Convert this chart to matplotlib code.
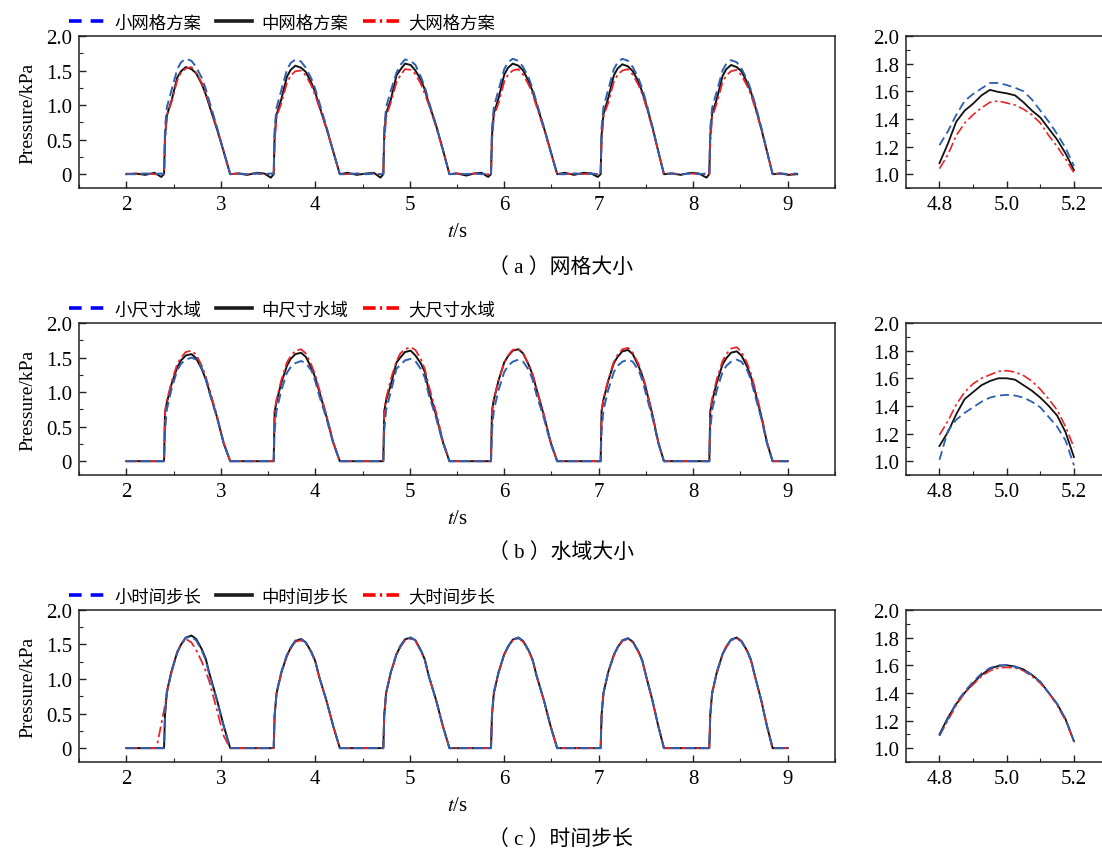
import matplotlib
matplotlib.use("Agg")
import matplotlib.pyplot as plt
from matplotlib.lines import Line2D
from matplotlib.ticker import MultipleLocator, FixedLocator, FixedFormatter

plt.rcParams['font.family'] = ['Liberation Serif', 'Noto Sans CJK SC', 'DejaVu Sans']
plt.rcParams['mathtext.fontset'] = 'stix'

# ---- data: panel (a) grid size ----
t_a = [2.00, 2.10, 2.20, 2.30, 2.37,
       2.40, 2.41, 2.43, 2.48, 2.54, 2.58, 2.63, 2.69, 2.74, 2.80, 2.84, 2.88, 2.96, 3.03, 3.10,
       3.18, 3.28, 3.38, 3.46, 3.53,
       3.56, 3.57, 3.59, 3.64, 3.70, 3.74, 3.79, 3.85, 3.90, 3.96, 4.00, 4.04, 4.12, 4.19, 4.26,
       4.34, 4.44, 4.54, 4.62, 4.69,
       4.72, 4.73, 4.75, 4.80, 4.86, 4.90, 4.95, 5.01, 5.06, 5.12, 5.16, 5.20, 5.28, 5.35, 5.42,
       5.50, 5.60, 5.68, 5.76, 5.83,
       5.86, 5.87, 5.89, 5.94, 6.00, 6.04, 6.09, 6.15, 6.20, 6.26, 6.30, 6.34, 6.42, 6.49, 6.56,
       6.64, 6.74, 6.84, 6.92, 6.99,
       7.02, 7.03, 7.05, 7.10, 7.16, 7.20, 7.25, 7.31, 7.36, 7.42, 7.46, 7.50, 7.57, 7.63, 7.69,
       7.77, 7.87, 7.97, 8.06, 8.14,
       8.17, 8.18, 8.20, 8.25, 8.31, 8.35, 8.40, 8.46, 8.51, 8.57, 8.61, 8.65, 8.72, 8.78, 8.84,
       8.92, 9.01, 9.10]
a_small = [0.00, 0.00, 0.01, 0.00, 0.01,
           0.00, 0.67, 0.97, 1.22, 1.52, 1.62, 1.67, 1.64, 1.55, 1.39, 1.24, 1.05, 0.68, 0.33, 0.00,
           0.01, 0.00, 0.01, 0.00, 0.01,
           0.00, 0.66, 0.96, 1.21, 1.51, 1.61, 1.66, 1.63, 1.54, 1.38, 1.23, 1.05, 0.68, 0.33, 0.00,
           0.00, 0.01, 0.00, 0.01, 0.00,
           0.00, 0.66, 0.97, 1.21, 1.47, 1.58, 1.66, 1.64, 1.58, 1.40, 1.26, 1.06, 0.70, 0.35, 0.00,
           0.01, 0.00, 0.01, 0.00, 0.01,
           0.00, 0.67, 0.97, 1.22, 1.52, 1.62, 1.67, 1.64, 1.55, 1.39, 1.24, 1.05, 0.68, 0.33, 0.00,
           0.00, 0.01, 0.00, 0.01, 0.00,
           0.00, 0.67, 0.97, 1.22, 1.52, 1.62, 1.67, 1.64, 1.55, 1.39, 1.24, 1.05, 0.68, 0.33, 0.00,
           0.01, 0.00, 0.01, 0.00, 0.01,
           0.00, 0.66, 0.96, 1.20, 1.50, 1.60, 1.65, 1.62, 1.53, 1.37, 1.22, 1.04, 0.68, 0.33, 0.00,
           0.01, 0.00, 0.01]
a_mid = [0.00, 0.01, -0.01, 0.02, -0.04,
         0.00, 0.54, 0.85, 1.07, 1.40, 1.49, 1.55, 1.52, 1.46, 1.30, 1.16, 0.99, 0.65, 0.33, 0.00,
         0.01, -0.01, 0.02, 0.01, -0.05,
         0.00, 0.55, 0.86, 1.08, 1.41, 1.51, 1.57, 1.54, 1.48, 1.32, 1.18, 1.00, 0.66, 0.33, 0.00,
         0.02, -0.01, 0.01, 0.02, -0.05,
         0.00, 0.56, 0.88, 1.08, 1.43, 1.51, 1.60, 1.58, 1.50, 1.36, 1.22, 1.03, 0.70, 0.36, 0.00,
         0.01, -0.02, 0.01, 0.02, -0.04,
         0.00, 0.56, 0.88, 1.10, 1.44, 1.54, 1.60, 1.57, 1.50, 1.34, 1.20, 1.02, 0.67, 0.34, 0.00,
         0.02, -0.01, 0.02, 0.01, -0.04,
         0.00, 0.56, 0.87, 1.10, 1.43, 1.53, 1.59, 1.56, 1.49, 1.34, 1.19, 1.02, 0.67, 0.33, 0.00,
         0.01, -0.01, 0.02, 0.01, -0.05,
         0.00, 0.55, 0.87, 1.09, 1.42, 1.52, 1.58, 1.55, 1.49, 1.33, 1.19, 1.01, 0.66, 0.33, 0.00,
         0.01, -0.01, 0.00]
a_large = [0.01, 0.00, 0.01, 0.00, 0.00,
           0.00, 0.47, 0.85, 1.05, 1.36, 1.47, 1.53, 1.55, 1.47, 1.32, 1.18, 1.01, 0.67, 0.34, 0.00,
           0.01, 0.00, 0.01, 0.00, 0.00,
           0.00, 0.45, 0.83, 1.02, 1.32, 1.43, 1.49, 1.50, 1.43, 1.28, 1.14, 0.98, 0.65, 0.33, 0.00,
           0.00, 0.01, 0.00, 0.01, 0.00,
           0.00, 0.45, 0.83, 1.04, 1.33, 1.43, 1.52, 1.51, 1.45, 1.30, 1.16, 1.01, 0.68, 0.35, 0.00,
           0.01, 0.00, 0.01, 0.00, 0.00,
           0.00, 0.46, 0.84, 1.03, 1.34, 1.44, 1.50, 1.52, 1.44, 1.29, 1.16, 0.99, 0.65, 0.33, 0.00,
           0.00, 0.01, 0.00, 0.01, 0.00,
           0.00, 0.46, 0.84, 1.03, 1.34, 1.44, 1.50, 1.52, 1.44, 1.29, 1.16, 0.99, 0.65, 0.33, 0.00,
           0.01, 0.00, 0.01, 0.00, 0.00,
           0.00, 0.45, 0.83, 1.03, 1.33, 1.43, 1.49, 1.51, 1.43, 1.28, 1.15, 0.98, 0.65, 0.33, 0.00,
           0.01, 0.00, 0.00]

# ---- data: panel (b) domain size ----
t_b = [2.00,
       2.40, 2.41, 2.43, 2.48, 2.54, 2.58, 2.63, 2.69, 2.74, 2.80, 2.84, 2.88, 2.96, 3.03, 3.10,
       3.56, 3.57, 3.59, 3.64, 3.70, 3.74, 3.79, 3.85, 3.90, 3.96, 4.00, 4.04, 4.12, 4.19, 4.26,
       4.72, 4.73, 4.75, 4.80, 4.86, 4.90, 4.95, 5.01, 5.06, 5.12, 5.16, 5.20, 5.28, 5.35, 5.42,
       5.86, 5.87, 5.89, 5.94, 6.00, 6.04, 6.09, 6.15, 6.20, 6.26, 6.30, 6.34, 6.42, 6.49, 6.56,
       7.02, 7.03, 7.05, 7.10, 7.16, 7.20, 7.25, 7.31, 7.36, 7.42, 7.46, 7.50, 7.57, 7.63, 7.69,
       8.17, 8.18, 8.20, 8.25, 8.31, 8.35, 8.40, 8.46, 8.51, 8.57, 8.61, 8.65, 8.72, 8.78, 8.84,
       9.00]
b_small = [0.00,
           0.00, 0.45, 0.75, 1.05, 1.32, 1.41, 1.47, 1.50, 1.47, 1.35, 1.20, 0.99, 0.63, 0.27, 0.00,
           0.00, 0.44, 0.73, 1.02, 1.28, 1.36, 1.42, 1.45, 1.42, 1.31, 1.16, 0.96, 0.61, 0.26, 0.00,
           0.00, 0.44, 0.74, 1.01, 1.34, 1.39, 1.46, 1.48, 1.45, 1.33, 1.21, 0.97, 0.62, 0.27, 0.00,
           0.00, 0.44, 0.74, 1.03, 1.29, 1.38, 1.44, 1.47, 1.44, 1.32, 1.18, 0.97, 0.62, 0.26, 0.00,
           0.00, 0.44, 0.74, 1.03, 1.29, 1.38, 1.44, 1.47, 1.44, 1.32, 1.18, 0.97, 0.62, 0.26, 0.00,
           0.00, 0.44, 0.74, 1.03, 1.29, 1.38, 1.44, 1.47, 1.44, 1.32, 1.18, 0.97, 0.62, 0.26, 0.00,
           0.00]
b_mid = [0.00,
         0.00, 0.70, 0.85, 1.12, 1.36, 1.46, 1.53, 1.55, 1.49, 1.33, 1.19, 1.01, 0.64, 0.26, 0.00,
         0.00, 0.71, 0.86, 1.13, 1.38, 1.48, 1.55, 1.57, 1.51, 1.35, 1.21, 1.02, 0.64, 0.27, 0.00,
         0.00, 0.72, 0.88, 1.11, 1.43, 1.50, 1.58, 1.60, 1.53, 1.41, 1.29, 1.03, 0.66, 0.28, 0.00,
         0.00, 0.73, 0.89, 1.17, 1.43, 1.52, 1.60, 1.62, 1.56, 1.39, 1.25, 1.05, 0.66, 0.28, 0.00,
         0.00, 0.72, 0.89, 1.16, 1.42, 1.51, 1.59, 1.61, 1.55, 1.38, 1.24, 1.05, 0.66, 0.27, 0.00,
         0.00, 0.72, 0.87, 1.14, 1.40, 1.49, 1.57, 1.59, 1.53, 1.37, 1.22, 1.03, 0.65, 0.27, 0.00,
         0.00]
b_large = [0.00,
           0.00, 0.72, 0.88, 1.15, 1.41, 1.50, 1.58, 1.60, 1.54, 1.38, 1.23, 1.04, 0.66, 0.27, 0.00,
           0.00, 0.73, 0.89, 1.17, 1.43, 1.52, 1.60, 1.62, 1.56, 1.39, 1.25, 1.05, 0.66, 0.28, 0.00,
           0.00, 0.75, 0.91, 1.19, 1.45, 1.56, 1.62, 1.65, 1.61, 1.47, 1.33, 1.10, 0.70, 0.30, 0.00,
           0.00, 0.73, 0.90, 1.17, 1.43, 1.53, 1.61, 1.63, 1.56, 1.40, 1.26, 1.06, 0.67, 0.28, 0.00,
           0.00, 0.74, 0.90, 1.18, 1.44, 1.54, 1.62, 1.64, 1.57, 1.41, 1.26, 1.07, 0.67, 0.28, 0.00,
           0.00, 0.74, 0.91, 1.19, 1.45, 1.55, 1.63, 1.65, 1.58, 1.42, 1.27, 1.07, 0.68, 0.28, 0.00,
           0.00]

# ---- data: panel (c) time step ----
t_c = [2.00, 2.32,
       2.40, 2.41, 2.43, 2.48, 2.54, 2.58, 2.63, 2.69, 2.74, 2.80, 2.84, 2.88, 2.96, 3.03, 3.10,
       3.56, 3.57, 3.59, 3.64, 3.70, 3.74, 3.79, 3.85, 3.90, 3.96, 4.00, 4.04, 4.12, 4.19, 4.26,
       4.72, 4.73, 4.75, 4.80, 4.86, 4.90, 4.95, 5.01, 5.06, 5.12, 5.16, 5.20, 5.28, 5.35, 5.42,
       5.86, 5.87, 5.89, 5.94, 6.00, 6.04, 6.09, 6.15, 6.20, 6.26, 6.30, 6.34, 6.42, 6.49, 6.56,
       7.02, 7.03, 7.05, 7.10, 7.16, 7.20, 7.25, 7.31, 7.36, 7.42, 7.46, 7.50, 7.57, 7.63, 7.69,
       8.17, 8.18, 8.20, 8.25, 8.31, 8.35, 8.40, 8.46, 8.51, 8.57, 8.61, 8.65, 8.72, 8.78, 8.84,
       9.00]
c_small = [0.00, 0.00,
           0.00, 0.48, 0.81, 1.11, 1.38, 1.50, 1.60, 1.61, 1.56, 1.41, 1.28, 1.06, 0.69, 0.32, 0.00,
           0.00, 0.47, 0.80, 1.10, 1.35, 1.46, 1.56, 1.58, 1.53, 1.39, 1.26, 1.04, 0.68, 0.32, 0.00,
           0.00, 0.47, 0.80, 1.10, 1.37, 1.48, 1.58, 1.60, 1.56, 1.41, 1.28, 1.05, 0.69, 0.32, 0.00,
           0.00, 0.48, 0.81, 1.10, 1.36, 1.47, 1.57, 1.60, 1.55, 1.41, 1.28, 1.06, 0.69, 0.32, 0.00,
           0.00, 0.48, 0.80, 1.10, 1.35, 1.46, 1.56, 1.59, 1.54, 1.40, 1.27, 1.05, 0.68, 0.32, 0.00,
           0.00, 0.48, 0.80, 1.10, 1.36, 1.47, 1.57, 1.60, 1.55, 1.41, 1.28, 1.06, 0.69, 0.32, 0.00,
           0.00]
c_mid = [0.00, 0.00,
         0.00, 0.49, 0.82, 1.12, 1.39, 1.50, 1.60, 1.63, 1.58, 1.43, 1.30, 1.08, 0.70, 0.33, 0.00,
         0.00, 0.47, 0.79, 1.09, 1.34, 1.45, 1.55, 1.58, 1.53, 1.39, 1.26, 1.04, 0.68, 0.32, 0.00,
         0.00, 0.48, 0.80, 1.10, 1.36, 1.47, 1.575, 1.60, 1.56, 1.41, 1.28, 1.05, 0.69, 0.32, 0.00,
         0.00, 0.48, 0.80, 1.10, 1.36, 1.47, 1.57, 1.60, 1.55, 1.41, 1.28, 1.06, 0.69, 0.32, 0.00,
         0.00, 0.48, 0.80, 1.10, 1.35, 1.46, 1.56, 1.59, 1.54, 1.40, 1.27, 1.05, 0.68, 0.32, 0.00,
         0.00, 0.48, 0.80, 1.10, 1.36, 1.47, 1.57, 1.60, 1.55, 1.41, 1.28, 1.06, 0.69, 0.32, 0.00,
         0.00]
c_large = [0.00, 0.00,
           0.55, 0.62, 0.80, 1.10, 1.40, 1.50, 1.58, 1.53, 1.42, 1.25, 1.12, 0.96, 0.55, 0.18, 0.00,
           0.00, 0.46, 0.79, 1.08, 1.33, 1.44, 1.54, 1.56, 1.52, 1.38, 1.25, 1.04, 0.68, 0.32, 0.00,
           0.00, 0.47, 0.79, 1.09, 1.35, 1.46, 1.56, 1.58, 1.55, 1.40, 1.27, 1.05, 0.69, 0.32, 0.00,
           0.00, 0.47, 0.79, 1.09, 1.35, 1.46, 1.56, 1.59, 1.54, 1.40, 1.27, 1.05, 0.69, 0.32, 0.00,
           0.00, 0.47, 0.79, 1.09, 1.34, 1.45, 1.55, 1.58, 1.53, 1.39, 1.26, 1.05, 0.68, 0.32, 0.00,
           0.00, 0.47, 0.79, 1.09, 1.35, 1.46, 1.56, 1.59, 1.54, 1.40, 1.27, 1.05, 0.69, 0.32, 0.00,
           0.00]

# ---- data: zoomed peak 4.8-5.2 s ----
t_zoom = [4.800, 4.825, 4.850, 4.875, 4.900, 4.925, 4.950, 4.975, 5.000,
          5.025, 5.050, 5.075, 5.100, 5.125, 5.150, 5.175, 5.200]
za_small = [1.21, 1.31, 1.43, 1.53, 1.58, 1.62, 1.66, 1.66, 1.645, 1.625, 1.60, 1.54, 1.46, 1.38, 1.29, 1.19, 1.06]
za_mid = [1.08, 1.22, 1.38, 1.46, 1.51, 1.57, 1.61, 1.595, 1.585, 1.57, 1.52, 1.46, 1.41, 1.33, 1.25, 1.15, 1.03]
za_large = [1.04, 1.14, 1.28, 1.37, 1.43, 1.48, 1.52, 1.53, 1.515, 1.50, 1.47, 1.43, 1.37, 1.28, 1.20, 1.11, 1.01]
zb_small = [1.01, 1.22, 1.30, 1.35, 1.39, 1.43, 1.46, 1.475, 1.48, 1.475, 1.46, 1.43, 1.39, 1.32, 1.25, 1.15, 0.97]
zb_mid = [1.11, 1.21, 1.34, 1.45, 1.50, 1.55, 1.58, 1.60, 1.60, 1.59, 1.55, 1.51, 1.46, 1.40, 1.33, 1.21, 1.03]
zb_large = [1.19, 1.29, 1.41, 1.50, 1.56, 1.60, 1.625, 1.65, 1.655, 1.645, 1.62, 1.58, 1.52, 1.45, 1.37, 1.25, 1.10]
zc_small = [1.09, 1.21, 1.33, 1.41, 1.48, 1.54, 1.58, 1.60, 1.60, 1.59, 1.565, 1.53, 1.48, 1.40, 1.32, 1.21, 1.05]
zc_mid = [1.10, 1.22, 1.32, 1.40, 1.47, 1.53, 1.575, 1.595, 1.60, 1.59, 1.57, 1.53, 1.48, 1.40, 1.32, 1.21, 1.05]
zc_large = [1.09, 1.20, 1.31, 1.40, 1.46, 1.52, 1.56, 1.58, 1.585, 1.58, 1.56, 1.52, 1.47, 1.40, 1.31, 1.20, 1.05]

labels_a = ['小网格方案', '中网格方案', '大网格方案']
labels_b = ['小尺寸水域', '中尺寸水域', '大尺寸水域']
labels_c = ['小时间步长', '中时间步长', '大时间步长']
captions = ['（ a ）网格大小', '（ b ）水域大小', '（ c ）时间步长']
y_ticks = [0, 0.5, 1.0, 1.5, 2.0]
y_tick_labels = ['0', '0.5', '1.0', '1.5', '2.0']
zoom_x_ticks = [4.8, 5.0, 5.2]
zoom_x_labels = ['4.8', '5.0', '5.2']
zoom_y_ticks = [1.0, 1.2, 1.4, 1.6, 1.8, 2.0]
zoom_y_labels = ['1.0', '1.2', '1.4', '1.6', '1.8', '2.0']

panels = [
    (t_a, a_small, a_mid, a_large, za_small, za_mid, za_large, labels_a, captions[0]),
    (t_b, b_small, b_mid, b_large, zb_small, zb_mid, zb_large, labels_b, captions[1]),
    (t_c, c_small, c_mid, c_large, zc_small, zc_mid, zc_large, labels_c, captions[2]),
]

BLUE = '#2f5fb0'
RED = '#e8262a'
BLACK = '#111111'
dash_blue = (0, (5, 2.5))
dash_red = (0, (6, 2, 1.5, 2))

fig = plt.figure(figsize=(11.02, 8.54), dpi=100)
row_y0 = [0.7787, 0.4426, 0.1066]
row_h = 0.178
cap_y = [0.686, 0.3525, 0.0164]


def style_axes(ax):
    for sp in ax.spines.values():
        sp.set_linewidth(1.1)
        sp.set_color('#222222')
    ax.tick_params(which='both', direction='in', top=False, right=False,
                   labelsize=15, color='#222222', pad=5)
    ax.tick_params(which='major', length=5, width=1.0)
    ax.tick_params(which='minor', length=3, width=0.8)


for i, (t, s, m, l, zs, zm, zl, labels, cap) in enumerate(panels):
    ax = fig.add_axes([0.0717, row_y0[i], 0.686, row_h])
    ax.plot(t, m, color=BLACK, lw=1.4, zorder=2)
    ax.plot(t, l, color=RED, lw=1.3, ls=dash_red, zorder=3)
    ax.plot(t, s, color=BLUE, lw=1.4, ls=dash_blue, zorder=4)
    ax.set_xlim(1.5, 9.5)
    ax.set_ylim(-0.2, 2.0)
    ax.xaxis.set_major_locator(MultipleLocator(1))
    ax.xaxis.set_minor_locator(MultipleLocator(0.5))
    ax.yaxis.set_major_locator(FixedLocator(y_ticks))
    ax.yaxis.set_major_formatter(FixedFormatter(y_tick_labels))
    ax.yaxis.set_minor_locator(MultipleLocator(0.25))
    style_axes(ax)
    ax.set_ylabel('Pressure/kPa', fontsize=14, labelpad=7)
    ax.set_xlabel('$t$/s', fontsize=15, labelpad=6)

    handles = [
        Line2D([], [], color='#0000ff', lw=2.6, ls=(0, (3.5, 2.5))),
        Line2D([], [], color='#1a1a1a', lw=2.6, ls='-'),
        Line2D([], [], color='#ff0000', lw=2.6, ls=(0, (3.5, 1.2, 0.6, 1.2))),
    ]
    ax.legend(handles, labels, loc='lower left', bbox_to_anchor=(-0.013, 1.03),
              ncol=3, frameon=False, fontsize=12.5, handlelength=2.1,
              handletextpad=0.5, columnspacing=0.85, borderpad=0, borderaxespad=0)

    axz = fig.add_axes([0.822, row_y0[i], 0.18, row_h])
    axz.plot(t_zoom, zm, color=BLACK, lw=1.3, zorder=2)
    axz.plot(t_zoom, zl, color=RED, lw=1.2, ls=dash_red, zorder=3)
    axz.plot(t_zoom, zs, color=BLUE, lw=1.3, ls=dash_blue, zorder=4)
    axz.set_xlim(4.7, 5.29)
    axz.set_ylim(0.9, 2.0)
    axz.xaxis.set_major_locator(FixedLocator(zoom_x_ticks))
    axz.xaxis.set_major_formatter(FixedFormatter(zoom_x_labels))
    axz.xaxis.set_minor_locator(FixedLocator([4.9, 5.1]))
    axz.yaxis.set_major_locator(FixedLocator(zoom_y_ticks))
    axz.yaxis.set_major_formatter(FixedFormatter(zoom_y_labels))
    axz.yaxis.set_minor_locator(MultipleLocator(0.1))
    style_axes(axz)

    fig.text(0.509, cap_y[i], cap, ha='center', va='center', fontsize=15)

fig.savefig('out.png', dpi=100)
